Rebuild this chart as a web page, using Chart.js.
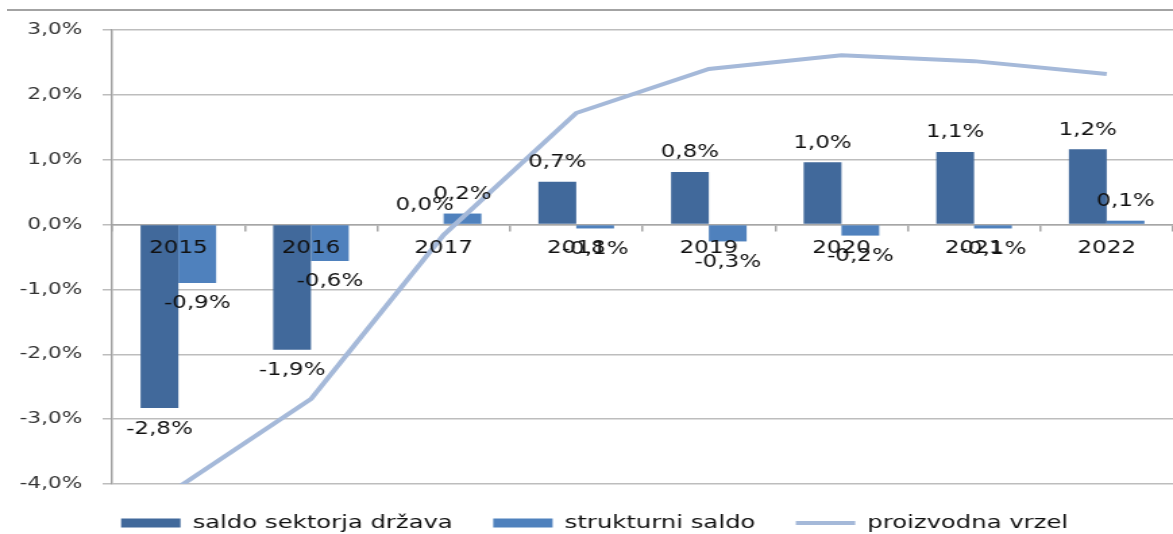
<!DOCTYPE html>
<html>
<head>
<meta charset="utf-8">
<script src="https://cdn.jsdelivr.net/npm/chart.js@4.4.1/dist/chart.umd.min.js"></script>
<style>
    html, body { margin: 0; padding: 0; background: #fff; overflow: hidden; }
    #wrap { position: relative; width: 1173px; height: 534px; overflow: hidden; }
    #frame-top { position: absolute; top: 9px; left: 7px; right: 0; border-top: 2px solid #a3a3a3; }
    /* original chart is stretched horizontally, so the canvas is drawn narrower and scaled up */
    #chart { position: absolute; left: 0; top: 0; width: 1173px; height: 542px; }
</style>
</head>
<body>
<div id="wrap">
    <div id="frame-top"></div>
    <canvas id="chart" width="869" height="542" style="width:1173px;height:542px"></canvas>
</div>
<script>
const years = ['2015', '2016', '2017', '2018', '2019', '2020', '2021', '2022'];
const saldoSektorja = [-2.83, -1.93, 0.0, 0.66, 0.81, 0.96, 1.12, 1.16];
const strukturniSaldo = [-0.9, -0.56, 0.17, -0.06, -0.26, -0.17, -0.06, 0.06];
const proizvodnaVrzel = [-4.05, -2.69, -0.16, 1.72, 2.40, 2.61, 2.52, 2.32];
const yTicks = [-4, -3, -2, -1, 0, 1, 2, 3];

const FONT = '"DejaVu Sans", Verdana, sans-serif';
const fmt = v => v.toFixed(1).replace('.', ',').replace(/^-0,0$/, '0,0') + '%';

// value labels above / below every bar
const barLabels = {
    id: 'barLabels',
    afterDatasetsDraw(chart) {
        const ctx = chart.ctx;
        ctx.save();
        ctx.font = '17px ' + FONT;
        ctx.fillStyle = '#111';
        ctx.textAlign = 'center';
        ctx.textBaseline = 'middle';
        chart.data.datasets.forEach((ds, i) => {
            if (ds.type === 'line') return;
            chart.getDatasetMeta(i).data.forEach((bar, j) => {
                const v = ds.data[j];
                const y = v >= 0 ? bar.y - 19 : bar.y + 21;
                ctx.fillText(fmt(v), bar.x, y);
            });
        });
        ctx.restore();
    }
};

new Chart(document.getElementById('chart'), {
    data: {
        labels: years,
        datasets: [
            { type: 'bar', label: 'saldo sektorja država', data: saldoSektorja, backgroundColor: '#41699b', borderWidth: 0, order: 1, pointStyle: 'rect' },
            { type: 'bar', label: 'strukturni saldo', data: strukturniSaldo, backgroundColor: '#4f81bd', borderWidth: 0, order: 1, pointStyle: 'rect' },
            { type: 'line', label: 'proizvodna vrzel', data: proizvodnaVrzel, borderColor: '#a5b9d9', backgroundColor: '#a5b9d9', borderWidth: 4, pointRadius: 0, tension: 0, order: 0, pointStyle: 'line' }
        ]
    },
    options: {
        responsive: false,
        devicePixelRatio: 1,
        animation: false,
        categoryPercentage: 0.57,
        barPercentage: 1.0,
        layout: { padding: { top: 30, left: 12, right: 0, bottom: 0 } },
        plugins: {
            tooltip: { enabled: false },
            legend: {
                position: 'bottom',
                labels: {
                    usePointStyle: true,
                    pointStyleWidth: 44,
                    boxHeight: 9,
                    padding: 30,
                    color: '#111',
                    font: { family: FONT, size: 18 },
                    sort: (a, b) => a.datasetIndex - b.datasetIndex
                }
            }
        },
        scales: {
            x: {
                type: 'category',
                position: { y: 0 },
                offset: true,
                grid: { offset: true, drawOnChartArea: false, drawTicks: true, tickLength: 6, color: '#a6a6a6', lineWidth: 1.5 },
                border: { display: true, color: '#a6a6a6', width: 1.5 },
                // year labels sit on the zero line, drawn over the bars
                ticks: { z: 1, color: '#111', font: { family: FONT, size: 17 }, padding: 8, maxRotation: 0 }
            },
            y: {
                min: -4,
                max: 3,
                afterBuildTicks: s => { s.ticks = yTicks.map(v => ({ value: v })); },
                afterFit: s => { s.width = 71; },
                grid: { color: '#bdbdbd', lineWidth: 1.5, drawTicks: true, tickLength: 7 },
                border: { display: true, color: '#a0a0a0', width: 1.5 },
                ticks: { color: '#333', font: { family: FONT, size: 16 }, padding: 15, callback: v => fmt(v) }
            }
        }
    },
    plugins: [barLabels]
});
</script>
</body>
</html>
